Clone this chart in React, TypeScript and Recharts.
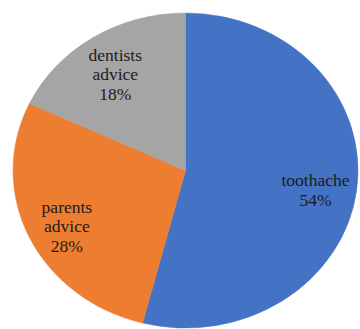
import React from 'react';
import { PieChart, Pie, Cell } from 'recharts';

// reasons for the dental visit, share in percent
const categories = ['toothache', 'parents advice', 'dentists advice'];
const shares = [54, 28, 18];
const colors = ['#4472C4', '#ED7D31', '#A5A5A5'];

const data = categories.map((name, i) => ({ name, value: shares[i] }));

const RADIAN = Math.PI / 180;
const LINE_H = 19.5;

const renderLabel = (props: any) => {
  const { cx, cy, midAngle, outerRadius, name, value } = props;
  const r = outerRadius * 0.76;
  const x = cx + r * Math.cos(-midAngle * RADIAN);
  const y = cy + r * Math.sin(-midAngle * RADIAN) + 5;
  const lines = [...String(name).split(' '), `${value}%`];
  const y0 = y - ((lines.length - 1) * LINE_H) / 2;
  return (
    <text
      x={x}
      y={y0}
      textAnchor="middle"
      dominantBaseline="central"
      fill="#1c1c1c"
      fontFamily="'Liberation Serif', 'Times New Roman', serif"
      fontSize={16}
    >
      {lines.map((l, i) => (
        <tspan key={i} x={x} dy={i === 0 ? 0 : LINE_H}>
          {l}
        </tspan>
      ))}
    </text>
  );
};

const App: React.FC = () => {
  return (
    <div
      style={{
        position: 'absolute',
        left: 0,
        top: 0,
        width: 360,
        height: 329,
        overflow: 'hidden',
        background: '#fff',
      }}
    >
      {/* the source picture is stretched sideways, so the round pie is too */}
      <div
        style={{
          width: 360,
          height: 329,
          transform: 'scaleX(1.095)',
          transformOrigin: '185.5px 170.5px',
        }}
      >
        <PieChart width={360} height={329} margin={{ top: 0, right: 0, bottom: 0, left: 0 }}>
          <Pie
            data={data}
            dataKey="value"
            nameKey="name"
            cx={185.5}
            cy={170.5}
            outerRadius={157.5}
            startAngle={90}
            endAngle={-270}
            label={renderLabel}
            labelLine={false}
            isAnimationActive={false}
          >
            {data.map((d, i) => (
              <Cell key={d.name} fill={colors[i]} stroke={colors[i]} strokeWidth={0.5} />
            ))}
          </Pie>
        </PieChart>
      </div>
    </div>
  );
};

export default App;
